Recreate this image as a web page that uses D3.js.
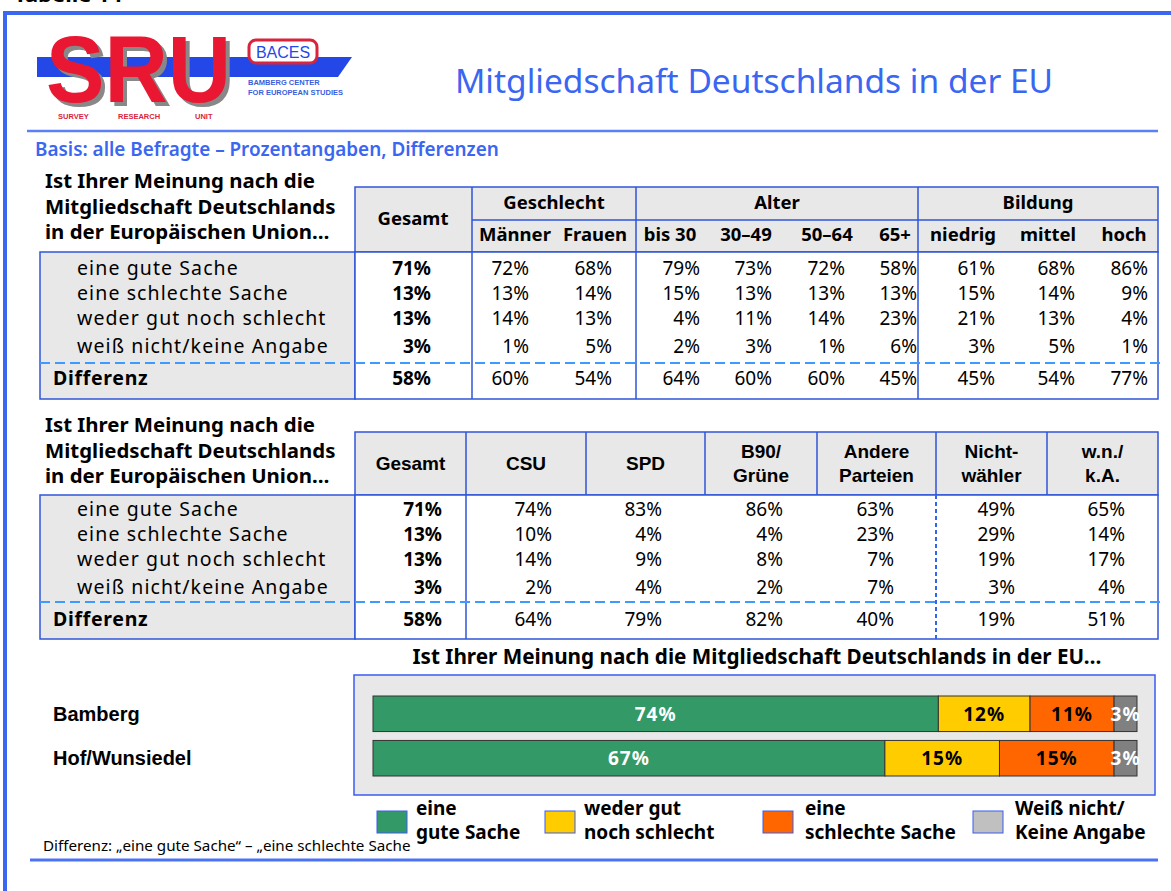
<!DOCTYPE html>
<html>
<head>
<meta charset="utf-8">
<script src="https://cdn.jsdelivr.net/npm/d3@7"></script>
<style>
body { margin: 0; background: #fff; }
svg { display: block; font-family: "Noto Sans", sans-serif; }
</style>
</head>
<body>
<svg id="chart" width="1171" height="891"></svg>
<script>
// ---- data ----
var title = "Mitgliedschaft Deutschlands in der EU";
var basis = "Basis: alle Befragte – Prozentangaben, Differenzen";
var question = ["Ist Ihrer Meinung nach die", "Mitgliedschaft Deutschlands", "in der Europäischen Union…"];
var rowLabels = ["eine gute Sache", "eine schlechte Sache", "weder gut noch schlecht", "weiß nicht/keine Angabe", "Differenz"];

var t1Groups = ["Geschlecht", "Alter", "Bildung"];
var t1Cols = ["Gesamt", "Männer", "Frauen", "bis 30", "30–49", "50–64", "65+", "niedrig", "mittel", "hoch"];
var t1Rows = [
    [71, 72, 68, 79, 73, 72, 58, 61, 68, 86],
    [13, 13, 14, 15, 13, 13, 13, 15, 14, 9],
    [13, 14, 13, 4, 11, 14, 23, 21, 13, 4],
    [3, 1, 5, 2, 3, 1, 6, 3, 5, 1],
    [58, 60, 54, 64, 60, 60, 45, 45, 54, 77]
];

var t2Cols = ["Gesamt", "CSU", "SPD", "B90/\nGrüne", "Andere\nParteien", "Nicht-\nwähler", "w.n./\nk.A."];
var t2Rows = [
    [71, 74, 83, 86, 63, 49, 65],
    [13, 10, 4, 4, 23, 29, 14],
    [13, 14, 9, 8, 7, 19, 17],
    [3, 2, 4, 2, 7, 3, 4],
    [58, 64, 79, 82, 40, 19, 51]
];

var barTitle = "Ist Ihrer Meinung nach die Mitgliedschaft Deutschlands in der EU…";
var regions = ["Bamberg", "Hof/Wunsiedel"];
var answers = ["eine gute Sache", "weder gut noch schlecht", "eine schlechte Sache", "Weiß nicht/Keine Angabe"];
var legendLabels = [["eine", "gute Sache"], ["weder gut", "noch schlecht"], ["eine", "schlechte Sache"], ["Weiß nicht/", "Keine Angabe"]];
var bamberg = [74, 12, 11, 3];
var hof = [67, 15, 15, 3];
var footnote = "Differenz: „eine gute Sache“ – „eine schlechte Sache";

// ---- setup ----
var svg = d3.select("#chart");
var blue = "#3a66f2",
    border = "#2f55d8",
    gray = "#e8e8e8",
    dash = "#3d9bff";

// frame
svg.append("line").attr("x1", 3).attr("x2", 1171).attr("y1", 13).attr("y2", 13)
    .attr("stroke", blue).attr("stroke-width", 4);
svg.append("line").attr("x1", 5).attr("x2", 5).attr("y1", 11).attr("y2", 891)
    .attr("stroke", blue).attr("stroke-width", 4);
svg.append("text").attr("x", 14).attr("y", 2).attr("font-size", 22).attr("font-weight", "bold")
    .text("Tabelle 14");

// logo
var logo = svg.append("g").attr("class", "logo");
logo.append("polygon").attr("points", "37,57 352,57 338,77 37,77").attr("fill", "#2448e8");
logo.append("text").attr("x", 50).attr("y", 106).attr("font-family", "Liberation Sans")
    .attr("font-weight", "bold").attr("font-size", 94).attr("textLength", 185)
    .attr("lengthAdjust", "spacingAndGlyphs").attr("fill", "#888").text("SRU");
logo.append("text").attr("x", 46).attr("y", 102).attr("font-family", "Liberation Sans")
    .attr("font-weight", "bold").attr("font-size", 94).attr("textLength", 185)
    .attr("lengthAdjust", "spacingAndGlyphs").attr("fill", "#ea1732").text("SRU");
logo.append("rect").attr("x", 249).attr("y", 40).attr("width", 68).attr("height", 23).attr("rx", 7)
    .attr("fill", "#fff").attr("stroke", "#d8243c").attr("stroke-width", 3);
logo.append("text").attr("x", 283).attr("y", 58).attr("text-anchor", "middle").attr("font-family", "Liberation Sans")
    .attr("font-size", 16).attr("fill", "#2448e8").text("BACES");
logo.selectAll("text.sub").data(["BAMBERG CENTER", "FOR EUROPEAN STUDIES"]).enter().append("text")
    .attr("class", "sub").attr("x", 248).attr("y", function(d, i) { return 85 + i * 10; })
    .attr("font-family", "Liberation Sans").attr("font-weight", "bold").attr("font-size", 7.5)
    .attr("fill", "#3a5ee0").text(function(d) { return d; });
logo.selectAll("text.unit").data([["SURVEY", 58], ["RESEARCH", 118], ["UNIT", 195]]).enter().append("text")
    .attr("class", "unit").attr("x", function(d) { return d[1]; }).attr("y", 119)
    .attr("font-family", "Liberation Sans").attr("font-weight", "bold").attr("font-size", 7.5)
    .attr("fill", "#d8243c").text(function(d) { return d[0]; });

// title and basis
svg.append("text").attr("x", 754).attr("y", 93).attr("text-anchor", "middle")
    .attr("font-size", 33.5).attr("fill", blue).text(title);
svg.append("line").attr("x1", 27).attr("x2", 1158).attr("y1", 131).attr("y2", 131)
    .attr("stroke", "#5b80f5").attr("stroke-width", 2.5);
svg.append("text").attr("x", 35).attr("y", 156).attr("font-size", 18.9).attr("font-weight", 600)
    .attr("fill", blue).text(basis);

// ---- tables ----
function drawQuestion(g, top) {
    g.selectAll("text.q").data(question).enter().append("text")
        .attr("x", 45).attr("y", function(d, i) { return top + i * 25.5; })
        .attr("font-size", 20.4).attr("font-weight", "bold").text(function(d) { return d; });
}

function drawBody(g, opt) {
    // label box and value area
    g.append("rect").attr("x", 40).attr("y", opt.headBottom).attr("width", 315)
        .attr("height", opt.bottom - opt.headBottom).attr("fill", gray).attr("stroke", border).attr("stroke-width", 1.5);
    g.append("rect").attr("x", 355).attr("y", opt.headBottom).attr("width", 803)
        .attr("height", opt.bottom - opt.headBottom).attr("fill", "#fff").attr("stroke", border).attr("stroke-width", 1.5);
    // row labels
    g.selectAll("text.lab").data(rowLabels).enter().append("text")
        .attr("x", function(d, i) { return i < 4 ? 77 : 53; })
        .attr("y", function(d, i) { return opt.y(i); })
        .attr("font-size", 19.5)
        .attr("letter-spacing", function(d, i) { return i < 4 ? 1.1 : 0.7; })
        .attr("font-weight", function(d, i) { return i < 4 ? "normal" : "bold"; })
        .text(function(d) { return d; });
}

function drawValues(g, rows, cols, x, y) {
    rows.forEach(function(row, r) {
        g.selectAll("text.v" + r).data(row).enter().append("text")
            .attr("x", function(d, i) { return x(cols[i]); })
            .attr("y", y(r))
            .attr("text-anchor", "end")
            .attr("font-size", 19)
            .attr("font-weight", function(d, i) { return i === 0 ? "bold" : "normal"; })
            .text(function(d) { return d + "%"; });
    });
}

// table 1
var t1 = svg.append("g").attr("class", "table1");
var t1Y = d3.scaleOrdinal().domain(d3.range(5)).range([275, 300, 325, 353, 385]);
var t1X = d3.scaleOrdinal().domain(t1Cols).range([431, 529, 612, 700, 772, 845, 917, 995, 1075, 1148]);
var t1Head = d3.scaleOrdinal().domain(t1Cols).range([413, 515, 595, 670, 746, 827, 895, 963, 1048, 1124]);
var t1GroupX = d3.scaleOrdinal().domain(t1Groups).range([[472, 636], [636, 918], [918, 1158]]);

drawQuestion(t1, 188);
t1.append("rect").attr("x", 355).attr("y", 187).attr("width", 803).attr("height", 65)
    .attr("fill", gray).attr("stroke", border).attr("stroke-width", 1.5);
drawBody(t1, { headBottom: 252, bottom: 399, y: t1Y });
t1.append("line").attr("x1", 472).attr("x2", 1158).attr("y1", 220).attr("y2", 220)
    .attr("stroke", border).attr("stroke-width", 1.5);
t1.selectAll("line.sep").data([472, 636, 918]).enter().append("line")
    .attr("x1", function(d) { return d; }).attr("x2", function(d) { return d; })
    .attr("y1", 187).attr("y2", 399).attr("stroke", border).attr("stroke-width", 1.5);
t1.append("line").attr("x1", 40).attr("x2", 1161).attr("y1", 363).attr("y2", 363)
    .attr("stroke", dash).attr("stroke-width", 2).attr("stroke-dasharray", "10,5");
t1.selectAll("text.grp").data(t1Groups).enter().append("text")
    .attr("x", function(d) { var r = t1GroupX(d); return (r[0] + r[1]) / 2; })
    .attr("y", 209).attr("text-anchor", "middle").attr("font-size", 18.5).attr("font-weight", "bold")
    .text(function(d) { return d; });
t1.selectAll("text.col").data(t1Cols).enter().append("text")
    .attr("x", function(d) { return t1Head(d); })
    .attr("y", function(d, i) { return i === 0 ? 225 : 241; })
    .attr("text-anchor", "middle").attr("font-size", 18.5).attr("font-weight", "bold")
    .text(function(d) { return d; });
drawValues(t1, t1Rows, t1Cols, t1X, t1Y);

// table 2
var t2 = svg.append("g").attr("class", "table2");
var t2Y = d3.scaleOrdinal().domain(d3.range(5)).range([516, 541, 566, 594, 626]);
var t2X = d3.scaleOrdinal().domain(t2Cols).range([442, 552, 662, 783, 894, 1015, 1125]);
var t2Edges = d3.scaleOrdinal().domain(t2Cols).range([[355, 466], [466, 586], [586, 705], [705, 817], [817, 936], [936, 1047], [1047, 1158]]);

drawQuestion(t2, 432);
t2.append("rect").attr("x", 355).attr("y", 432).attr("width", 803).attr("height", 63)
    .attr("fill", gray).attr("stroke", border).attr("stroke-width", 1.5);
drawBody(t2, { headBottom: 495, bottom: 639, y: t2Y });
t2.selectAll("line.sep").data(t2Cols.slice(1)).enter().append("line")
    .attr("x1", function(d) { return t2Edges(d)[0]; }).attr("x2", function(d) { return t2Edges(d)[0]; })
    .attr("y1", 432).attr("y2", function(d, i) { return i === 0 ? 639 : 495; })
    .attr("stroke", border).attr("stroke-width", 1.5);
t2.append("line").attr("x1", 936).attr("x2", 936).attr("y1", 495).attr("y2", 639)
    .attr("stroke", "#3366ee").attr("stroke-width", 2).attr("stroke-dasharray", "4,3");
t2.append("line").attr("x1", 40).attr("x2", 1161).attr("y1", 602).attr("y2", 602)
    .attr("stroke", dash).attr("stroke-width", 2).attr("stroke-dasharray", "10,5");
t2.selectAll("text.col").data(t2Cols).enter().append("text")
    .attr("x", function(d) { var e = t2Edges(d); return (e[0] + e[1]) / 2; })
    .attr("y", function(d) { return d.indexOf("\n") < 0 ? 470 : 458; })
    .attr("text-anchor", "middle").attr("font-family", "Liberation Sans")
    .attr("font-size", 19).attr("font-weight", "bold")
    .each(function(d) {
        var lines = d.split("\n");
        d3.select(this).selectAll("tspan").data(lines).enter().append("tspan")
            .attr("x", d3.select(this).attr("x"))
            .attr("dy", function(l, i) { return i === 0 ? 0 : 24; })
            .text(function(l) { return l; });
    });
drawValues(t2, t2Rows, t2Cols, t2X, t2Y);

// ---- stacked bars ----
var colors = d3.scaleOrdinal().domain(answers).range(["#339966", "#ffcc00", "#ff6600", "#808080"]);
var legendColors = d3.scaleOrdinal().domain(answers).range(["#339966", "#ffcc00", "#ff6600", "#c0c0c0"]);
var textColors = d3.scaleOrdinal().domain(answers).range(["#fff", "#000", "#000", "#fff"]);

var barData = regions.map(function(r, i) {
    var vals = i === 0 ? bamberg : hof;
    var o = { region: r };
    answers.forEach(function(a, j) { o[a] = vals[j]; });
    return o;
});
var series = d3.stack().keys(answers)(barData);

var x = d3.scaleLinear().domain([0, 100]).range([373, 1137]);
var y = d3.scaleBand().domain(regions).range([696, 776]).paddingInner(0.2);

svg.append("text").attr("x", 757).attr("y", 664).attr("text-anchor", "middle")
    .attr("font-size", 20.7).attr("font-weight", "bold").text(barTitle);
svg.append("rect").attr("x", 354).attr("y", 675).attr("width", 801).attr("height", 120)
    .attr("fill", gray).attr("stroke", "#3a5cf0").attr("stroke-width", 1.5);

svg.selectAll("text.region").data(regions).enter().append("text")
    .attr("x", 53).attr("y", function(d) { return y(d) + y.bandwidth() / 2 + 7; })
    .attr("font-family", "Liberation Sans").attr("font-weight", "bold").attr("font-size", 20)
    .text(function(d) { return d; });

var layer = svg.append("g").selectAll("g").data(series).enter().append("g")
    .attr("fill", function(d) { return colors(d.key); });
layer.selectAll("rect").data(function(d) { return d; }).enter().append("rect")
    .attr("x", function(d) { return x(d[0]); })
    .attr("y", function(d) { return y(d.data.region); })
    .attr("width", function(d) { return x(d[1]) - x(d[0]); })
    .attr("height", y.bandwidth())
    .attr("stroke", "#333").attr("stroke-width", 1);
layer.selectAll("text").data(function(d) { return d.map(function(p) { p.key = d.key; return p; }); })
    .enter().append("text")
    .attr("x", function(d) { return (x(d[0]) + x(d[1])) / 2; })
    .attr("y", function(d) { return y(d.data.region) + y.bandwidth() / 2 + 7; })
    .attr("text-anchor", "middle").attr("font-size", 19).attr("font-weight", "bold")
    .attr("letter-spacing", 1)
    .attr("fill", function(d) { return textColors(d.key); })
    .text(function(d) { return (d[1] - d[0]) + "%"; });

// legend
var legendX = d3.scaleOrdinal().domain(answers).range([377, 545, 763, 973]);
var legend = svg.append("g").selectAll("g").data(answers).enter().append("g")
    .attr("transform", function(d) { return "translate(" + legendX(d) + ",811)"; });
legend.append("rect").attr("width", 30).attr("height", 22)
    .attr("fill", function(d) { return legendColors(d); })
    .attr("stroke", "#3a5cf0").attr("stroke-width", 1);
legend.append("text").attr("y", 4).attr("font-size", 19).attr("font-weight", "bold")
    .each(function(d, i) {
        var tx = i < 2 ? 39 : 42;
        d3.select(this).selectAll("tspan").data(legendLabels[i]).enter().append("tspan")
            .attr("x", tx).attr("dy", function(l, j) { return j === 0 ? 0 : 24; })
            .text(function(l) { return l; });
    });

svg.append("text").attr("x", 43).attr("y", 851).attr("font-size", 15.2).text(footnote);
svg.append("line").attr("x1", 30).attr("x2", 1158).attr("y1", 860).attr("y2", 860)
    .attr("stroke", "#4a72f5").attr("stroke-width", 3);
</script>
</body>
</html>
